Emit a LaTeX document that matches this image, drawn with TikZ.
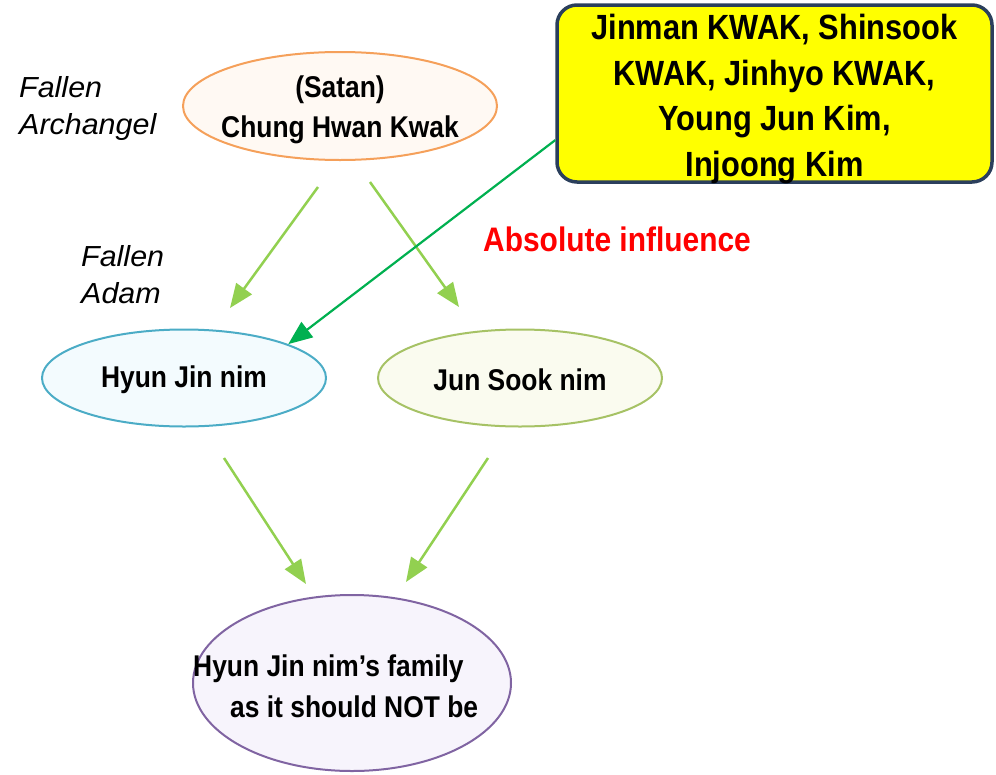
\documentclass[tikz,border=0pt]{standalone}
\usepackage{fontspec}
\setmainfont[FakeStretch=0.88]{Liberation Sans}
\newfontfamily\tagfont[FakeStretch=1.05]{Liberation Sans}
\usetikzlibrary{shapes, arrows.meta, positioning}
\definecolor{leaf}{HTML}{92D050}
\definecolor{deepgreen}{HTML}{00B050}
\definecolor{navy}{HTML}{2B3F5C}
\definecolor{pureyellow}{HTML}{FFFF00}
\tikzstyle{person} = [draw, ellipse, line width=2pt, inner sep=0pt]
\tikzstyle{nametext} = [font=\fontsize{30}{40}\selectfont\bfseries, align=center, inner sep=0pt]
\tikzstyle{sidenote} = [font=\tagfont\itshape\fontsize{29}{37}\selectfont, align=left, anchor=base west, inner sep=0pt]
\tikzstyle{groupbox} = [draw=navy, fill=pureyellow, rectangle, rounded corners=20pt, line width=3.5pt, inner sep=0pt, font=\fontsize{35}{45}\selectfont\bfseries, align=center]
\tikzstyle{descent} = [->, leaf, line width=2.5pt]

\begin{document}
\begin{tikzpicture}[x=1pt, y=-1pt, >={Triangle[length=24pt, width=19pt]}]
  \useasboundingbox (0,0) rectangle (996,774);
  \node [person, draw={rgb,255:red,245;green,160;blue,90}, fill={rgb,255:red,255;green,249;blue,243}, minimum width=314pt, minimum height=108pt] (satan) at (340,106) {};
  \node [nametext] (satantext) at (340,110) {(Satan)\\Chung Hwan Kwak};
  \node [groupbox, minimum width=435pt, minimum height=177pt] (gang) at (774.5,93.5) {};
  \node [nametext, font=\fontsize{35}{45.5}\selectfont\bfseries] (gangtext) at (774.5,99) {Jinman KWAK, Shinsook\\KWAK, Jinhyo KWAK,\\Young Jun Kim,\\Injoong Kim};
  \node [sidenote] (archangel) at (19,134) {Fallen\\Archangel};
  \node [sidenote] (adam) at (81,303) {Fallen\\Adam};
  \node [font=\fontsize{34}{40}\selectfont\bfseries, text=red, anchor=base west, inner sep=0pt] (influence) at (483,251) {Absolute influence};
  \node [person, draw={rgb,255:red,75;green,172;blue,198}, fill={rgb,255:red,243;green,251;blue,254}, minimum width=284pt, minimum height=97pt] (hyun) at (184,378) {};
  \node [nametext] (hyuntext) at (184,380) {Hyun Jin nim};
  \node [person, draw={rgb,255:red,166;green,194;blue,101}, fill={rgb,255:red,250;green,251;blue,239}, minimum width=284pt, minimum height=97pt] (jun) at (520,378) {};
  \node [nametext] (juntext) at (520,380) {Jun Sook nim};
  \node [person, draw={rgb,255:red,128;green,100;blue,162}, fill={rgb,255:red,247;green,244;blue,252}, minimum width=318pt, minimum height=176pt] (family) at (352,683) {};
  \node [nametext, font=\fontsize{30}{41}\selectfont\bfseries, align=left, anchor=base west] (familytext) at (193,717) {Hyun Jin nim’s family\\\hspace*{37pt}as it should NOT be};
  \coordinate (s1) at (318,187);
  \coordinate (h1) at (230,308);
  \coordinate (s2) at (370,182);
  \coordinate (j1) at (459,307);
  \coordinate (h2) at (224,458);
  \coordinate (f1) at (306,584);
  \coordinate (j2) at (488,458);
  \coordinate (f2) at (406,582);
  \draw [descent] (s1) -- (h1);
  \draw [descent] (s2) -- (j1);
  \draw [descent] (h2) -- (f1);
  \draw [descent] (j2) -- (f2);
  \draw [->, deepgreen, line width=2.2pt] (gang.192) -- (hyun.18);
\end{tikzpicture}
\end{document}
